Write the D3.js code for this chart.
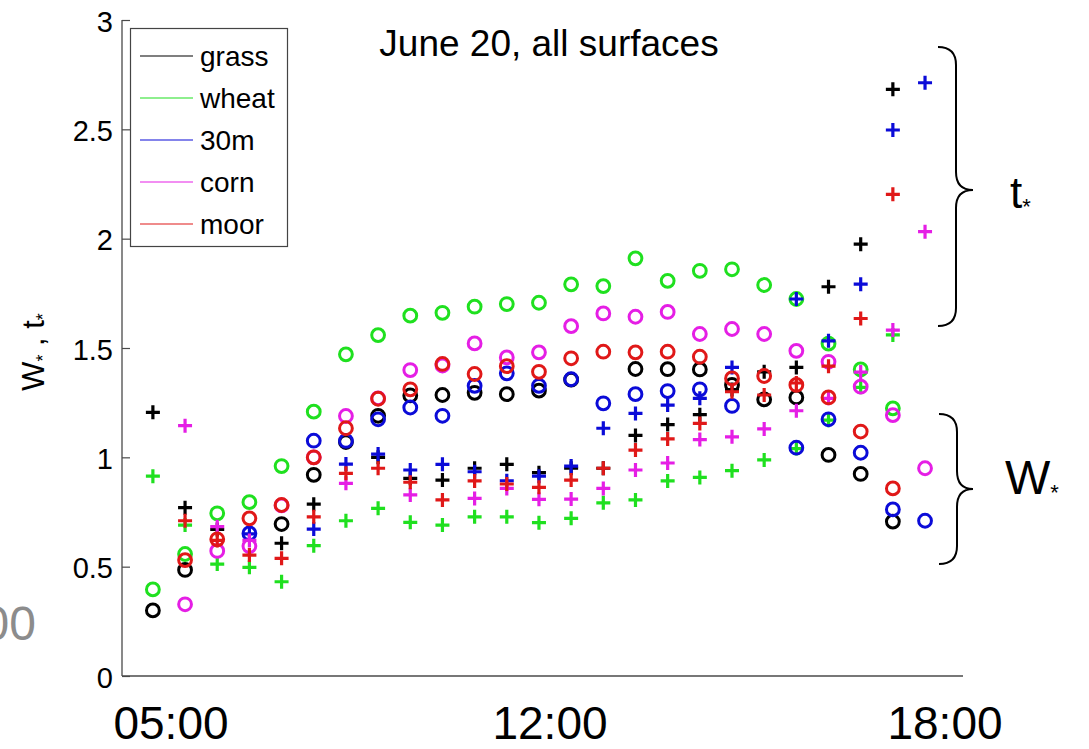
<!DOCTYPE html>
<html>
<head>
<meta charset="utf-8">
<script src="https://cdn.jsdelivr.net/npm/d3@7"></script>
<style>
  html, body { margin: 0; padding: 0; background: #fff; }
  svg { display: block; font-family: "Liberation Sans", Arial, Helvetica, sans-serif; }
</style>
</head>
<body>
<svg id="chart" width="1089" height="749"></svg>
<script>
// Observation slots along the day (one column of markers per slot)
const slots = [0, 1, 2, 3, 4, 5, 6, 7, 8, 9, 10, 11, 12, 13, 14, 15, 16, 17, 18, 19, 20, 21, 22, 23, 24];

const surfaces = ["grass", "wheat", "30m", "corn", "moor"];

// W* (circles) per surface
const grassW = [0.30, 0.485, null, null, 0.695, 0.92, 1.07, 1.19, 1.283, 1.285, 1.295, 1.289, 1.305, 1.355, null, 1.404, 1.403, 1.402, 1.331, 1.265, 1.274, 1.011, 0.924, 0.706, null];
const wheatW = [0.396, 0.558, 0.744, 0.795, 0.96, 1.209, 1.471, 1.559, 1.648, 1.661, 1.689, 1.701, 1.707, 1.791, 1.783, 1.91, 1.807, 1.853, 1.86, 1.788, 1.724, 1.52, 1.402, 1.224, null];
const m30W   = [null, null, null, 0.652, null, 1.076, 1.075, 1.174, 1.228, 1.19, 1.327, 1.384, 1.327, 1.357, 1.247, 1.289, 1.303, 1.311, 1.235, null, 1.044, 1.174, 1.021, 0.762, 0.71];
const cornW  = [null, 0.328, 0.572, 0.594, 0.78, 1.0, 1.189, 1.27, 1.399, 1.42, 1.521, 1.457, 1.48, 1.6, 1.658, 1.643, 1.665, 1.564, 1.587, 1.564, 1.487, 1.437, 1.323, 1.193, 0.95];
const moorW  = [null, 0.53, 0.625, 0.721, 0.782, 1.0, 1.133, 1.268, 1.311, 1.427, 1.381, 1.417, 1.391, 1.453, 1.483, 1.48, 1.483, 1.46, 1.361, 1.372, 1.331, 1.274, 1.118, 0.858, null];

// t* (plus signs) per surface
const grassT = [1.206, 0.77, 0.67, null, 0.607, 0.786, null, 1.0, 0.904, 0.896, 0.95, 0.968, 0.93, 0.95, 0.95, 1.10, 1.15, 1.195, 1.31, 1.391, 1.411, 1.78, 1.975, 2.683, null];
const wheatT = [0.914, 0.69, 0.512, 0.497, 0.431, 0.596, 0.71, 0.767, 0.703, 0.69, 0.728, 0.728, 0.701, 0.721, 0.792, 0.805, 0.892, 0.908, 0.939, 0.988, 1.04, 1.17, 1.32, 1.56, null];
const m30T   = [null, null, null, 0.65, null, 0.672, 0.969, 1.015, 0.942, 0.968, 0.934, 0.893, 0.914, 0.96, 1.133, 1.201, 1.239, 1.27, 1.411, null, 1.724, 1.533, 1.792, 2.497, 2.713];
const cornT  = [null, 1.145, 0.683, 0.62, null, null, 0.881, null, 0.828, null, 0.812, 0.858, 0.808, 0.809, 0.858, 0.942, 0.974, 1.081, 1.094, 1.13, 1.213, 1.27, 1.39, 1.582, 2.032];
const moorT  = [null, 0.71, 0.62, 0.553, 0.538, 0.728, 0.927, 0.95, 0.886, 0.805, 0.892, 0.878, 0.863, 0.896, 0.95, 1.033, 1.084, 1.155, 1.30, 1.285, 1.34, 1.417, 1.635, 2.203, null];

const yTicks = [0, 0.5, 1, 1.5, 2, 2.5, 3];
const timeLabels = ["05:00", "12:00", "18:00"];

const colors = {
  grass: "#000000",
  wheat: "#1fe01f",
  "30m": "#0b0bd8",
  corn: "#e51ee5",
  moor: "#e01818"
};

const seriesW = { grass: grassW, wheat: wheatW, "30m": m30W, corn: cornW, moor: moorW };
const seriesT = { grass: grassT, wheat: wheatT, "30m": m30T, corn: cornT, moor: moorT };

const svg = d3.select("#chart");

const x = d3.scaleLinear().domain([-0.96, 25.18]).range([122, 963]);
const y = d3.scaleLinear().domain([0, 3]).range([676, 20]);

// axes: left and bottom only, ticks pointing inward
const axisColor = "#4a4a4a";
const yAxis = svg.append("g").attr("transform", `translate(${x.range()[0]},0)`)
  .call(d3.axisLeft(y).tickValues(yTicks).tickSize(-8).tickPadding(9)
        .tickFormat(d => d3.format("")(d)));
yAxis.select(".domain").attr("stroke", axisColor).attr("stroke-width", 1.3).attr("d", `M0,${y(3)}V${y(0)}`);
yAxis.selectAll(".tick line").attr("stroke", axisColor).attr("stroke-width", 1.2);
yAxis.selectAll(".tick text").attr("font-size", 29).attr("fill", "#000")
  .attr("font-family", "Liberation Sans, Arial, sans-serif").attr("dy", "0.38em");

svg.append("line")
  .attr("x1", x.range()[0]).attr("x2", x.range()[1])
  .attr("y1", y(0)).attr("y2", y(0))
  .attr("stroke", axisColor).attr("stroke-width", 1.5);

// markers
const plot = svg.append("g");
const plusPath = "M-7,0H7M0,-7V7";

surfaces.forEach(s => {
  const c = colors[s];
  const wPts = slots.map((k, i) => ({ k, v: seriesW[s][i] })).filter(d => d.v != null);
  const tPts = slots.map((k, i) => ({ k, v: seriesT[s][i] })).filter(d => d.v != null);
  plot.append("g").selectAll("circle").data(wPts).join("circle")
    .attr("cx", d => x(d.k)).attr("cy", d => y(d.v)).attr("r", 6.4)
    .attr("fill", "none").attr("stroke", c).attr("stroke-width", 3);
  plot.append("g").selectAll("path").data(tPts).join("path")
    .attr("transform", d => `translate(${x(d.k)},${y(d.v)})`)
    .attr("d", plusPath).attr("fill", "none").attr("stroke", c).attr("stroke-width", 3.2);
});

// legend
const lg = svg.append("g");
lg.append("rect").attr("x", 130.5).attr("y", 28.5).attr("width", 157).attr("height", 218)
  .attr("fill", "#fff").attr("stroke", "#444").attr("stroke-width", 1.2);
surfaces.forEach((s, i) => {
  const yy = 56 + i * 42;
  lg.append("line").attr("x1", 140).attr("x2", 193).attr("y1", yy).attr("y2", yy)
    .attr("stroke", colors[s]).attr("stroke-width", 1.2);
  lg.append("text").attr("x", 200).attr("y", yy).attr("dy", "0.35em")
    .attr("font-size", 28).attr("fill", "#000").text(s);
});

// title
svg.append("text").attr("x", 549).attr("y", 56).attr("text-anchor", "middle")
  .attr("font-size", 37).attr("fill", "#000").text("June 20, all surfaces");

// y label
const yl = svg.append("text").attr("transform", "translate(44,352) rotate(-90)")
  .attr("text-anchor", "middle").attr("font-size", 31).attr("fill", "#000");
yl.append("tspan").text("W");
yl.append("tspan").attr("font-size", 18).attr("dy", 5).text("*");
yl.append("tspan").attr("dy", -5).text(" , t");
yl.append("tspan").attr("font-size", 18).attr("dy", 5).text("*");

// time-of-day labels beneath the axis
const timeX = [171, 550, 945];
timeLabels.forEach((t, i) => {
  svg.append("text").attr("x", timeX[i]).attr("y", 739).attr("text-anchor", "middle")
    .attr("font-size", 46).attr("fill", "#000").text(t);
});

// partial grey label at the left edge
svg.append("text").attr("x", 36).attr("y", 640).attr("text-anchor", "end")
  .attr("font-size", 48).attr("fill", "#8c8c8c").text("00");

// curly braces grouping the two quantities
function brace(xEnd, xMid, xTip, yTop, yMidP, yBot) {
  const r = 18;
  return `M${xEnd},${yTop} Q${xMid},${yTop} ${xMid},${yTop + r}` +
         ` L${xMid},${yMidP - r} Q${xMid},${yMidP} ${xTip},${yMidP}` +
         ` Q${xMid},${yMidP} ${xMid},${yMidP + r}` +
         ` L${xMid},${yBot - r} Q${xMid},${yBot} ${xEnd},${yBot}`;
}
svg.append("path").attr("d", brace(938, 956, 973, 47, 190, 326))
  .attr("fill", "none").attr("stroke", "#000").attr("stroke-width", 2);
svg.append("path").attr("d", brace(939, 957, 973, 414, 489, 564))
  .attr("fill", "none").attr("stroke", "#000").attr("stroke-width", 2);

const tl = svg.append("text").attr("x", 1010).attr("y", 208).attr("font-size", 44).attr("fill", "#000");
tl.append("tspan").text("t");
tl.append("tspan").attr("font-size", 22).attr("dy", 6).text("*");

const wl = svg.append("text").attr("x", 1005).attr("y", 494).attr("font-size", 48).attr("fill", "#000");
wl.append("tspan").text("W");
wl.append("tspan").attr("font-size", 22).attr("dy", 6).text("*");
</script>
</body>
</html>
